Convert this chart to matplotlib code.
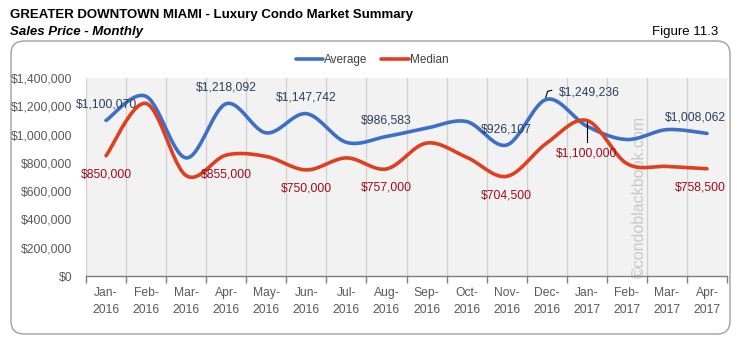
import matplotlib.pyplot as plt
import numpy as np
from matplotlib.patches import FancyBboxPatch
from matplotlib.transforms import IdentityTransform
from matplotlib.ticker import FuncFormatter

months = ['Jan-\n2016', 'Feb-\n2016', 'Mar-\n2016', 'Apr-\n2016', 'May-\n2016', 'Jun-\n2016',
          'Jul-\n2016', 'Aug-\n2016', 'Sep-\n2016', 'Oct-\n2016', 'Nov-\n2016', 'Dec-\n2016',
          'Jan-\n2017', 'Feb-\n2017', 'Mar-\n2017', 'Apr-\n2017']
average = [1100070, 1270000, 835000, 1218092, 1012000, 1147742, 945000, 986583,
           1045000, 1092000, 926107, 1249236, 1060000, 965000, 1035000, 1008062]
median = [850000, 1220000, 710000, 855000, 845000, 750000, 835000, 757000,
          940000, 840000, 704500, 940000, 1100000, 795000, 775000, 758500]
avg_labeled = [0, 3, 5, 7, 10, 11, 15]
med_labeled = [0, 3, 5, 7, 10, 12, 15]

BLUE = '#3D6FC6'
RED = '#DF3F1F'
BLUE_TXT = '#2B3E5E'
RED_TXT = '#A00A1E'
GRAY_TXT = '#595959'
LABEL_SIZE = 8.7

plt.rcParams['font.family'] = ['Liberation Sans', 'DejaVu Sans']


def smooth(y, n=30):
    # Catmull-Rom curve through the points, like Excel's smoothed line
    p = np.asarray(y, dtype=float)
    x = np.arange(len(p), dtype=float)
    px = np.concatenate([[x[0]], x, [x[-1]]])
    py = np.concatenate([[p[0]], p, [p[-1]]])
    xs, ys = [], []
    t = np.linspace(0, 1, n, endpoint=False)
    for i in range(1, len(px) - 2):
        for arr, out in ((px, xs), (py, ys)):
            p0, p1, p2, p3 = arr[i - 1], arr[i], arr[i + 1], arr[i + 2]
            c = 0.5 * ((2 * p1) + (-p0 + p2) * t + (2 * p0 - 5 * p1 + 4 * p2 - p3) * t ** 2
                       + (-p0 + 3 * p1 - 3 * p2 + p3) * t ** 3)
            out.extend(c)
    xs.append(x[-1])
    ys.append(p[-1])
    return np.array(xs), np.array(ys)


fig = plt.figure(figsize=(7.37, 3.48), dpi=100)
W, H = 737, 348

# rounded frame behind the axes
frame = FancyBboxPatch((11, 14), 719, 293, boxstyle='round,pad=0,rounding_size=13',
                       transform=IdentityTransform(), facecolor='none',
                       edgecolor='#A0A0A0', linewidth=1.0, zorder=-1)
fig.patches.append(frame)

fig.text(10 / W, 1 - 15 / H, 'GREATER DOWNTOWN MIAMI - Luxury Condo Market Summary',
         fontsize=9.5, fontweight='bold', va='center', ha='left')
fig.text(10 / W, 1 - 31.5 / H, 'Sales Price - Monthly', fontsize=9.5, fontweight='bold',
         style='italic', va='center', ha='left')
fig.text(718 / W, 1 - 32 / H, 'Figure 11.3', fontsize=9.5, va='center', ha='right')

ax = fig.add_axes([86 / W, (H - 276) / H, 641 / W, 198 / H])
ax.set_facecolor('#F2F2F2')

x = np.arange(len(months))
sx, sy = smooth(average)
ax.plot(sx, sy, color=BLUE, linewidth=2.6, solid_capstyle='round', zorder=3, label='Average')
sx, sy = smooth(median)
ax.plot(sx, sy, color=RED, linewidth=2.6, solid_capstyle='round', zorder=3, label='Median')

ax.set_xlim(-0.5, len(months) - 0.5)
ax.set_ylim(0, 1400000)
ax.set_yticks(np.arange(0, 1400001, 200000))
ax.yaxis.set_major_formatter(FuncFormatter(lambda v, _: '${:,.0f}'.format(v)))
ax.tick_params(axis='y', length=0, pad=10, labelsize=LABEL_SIZE, labelcolor=GRAY_TXT)

ax.set_xticks(x)
ax.set_xticklabels(months, linespacing=1.55)
ax.set_xticks(np.arange(-0.5, len(months), 1), minor=True)
ax.tick_params(axis='x', which='major', length=0, pad=8, labelsize=8.7, labelcolor=GRAY_TXT)
ax.tick_params(axis='x', which='minor', length=5, direction='out', color='#7F7F7F', width=1)
ax.grid(axis='x', which='minor', color='#D0D0D0', linewidth=0.9)
ax.set_axisbelow(True)
for side in ['top', 'right', 'left']:
    ax.spines[side].set_visible(False)
ax.spines['bottom'].set_color('#7F7F7F')
ax.spines['bottom'].set_linewidth(1.0)

# value labels
for i in avg_labeled:
    dx, dy, ha = 0, 16, 'center'
    if i == 11:
        dx, dy, ha = 12, 7, 'left'
    if i == len(months) - 1:
        dx = -12
    ax.annotate('${:,.0f}'.format(average[i]), (x[i], average[i]), xytext=(dx, dy),
                textcoords='offset pixels', ha=ha, va='center', fontsize=LABEL_SIZE,
                color=BLUE_TXT, zorder=5)
for i in med_labeled:
    dx, dy = 0, -19
    if i == 12:
        dy = -33
    if i == len(months) - 1:
        dx = -7
    ax.annotate('${:,.0f}'.format(median[i]), (x[i], median[i]), xytext=(dx, dy),
                textcoords='offset pixels', ha='center', va='center', fontsize=LABEL_SIZE,
                color=RED_TXT, zorder=5)

# leader lines for the two shifted labels
to_px = ax.transData
inv = ax.transData.inverted()
px, py = to_px.transform((x[11], average[11]))
pts = inv.transform([(px - 1, py + 2), (px + 1, py + 8), (px + 5, py + 9)])
ax.plot(pts[:, 0], pts[:, 1], color='black', linewidth=0.8, zorder=4)
px, py = to_px.transform((x[12], median[12]))
pts = inv.transform([(px, py - 2), (px, py - 22)])
ax.plot(pts[:, 0], pts[:, 1], color='black', linewidth=0.8, zorder=4)

ax.text(13.3, 560000, '©condoblackbook.com', rotation=90, ha='center', va='center',
        fontsize=11.5, color='#C8C8C8', zorder=2)

leg = fig.legend(loc='center', bbox_to_anchor=(372 / W, 1 - 60 / H), ncol=2, frameon=False,
                 fontsize=8.5, handlelength=2.3, handletextpad=0.1, columnspacing=1.2)
for t in leg.get_texts():
    t.set_color('#404040')

fig.savefig('out.png', dpi=100)
